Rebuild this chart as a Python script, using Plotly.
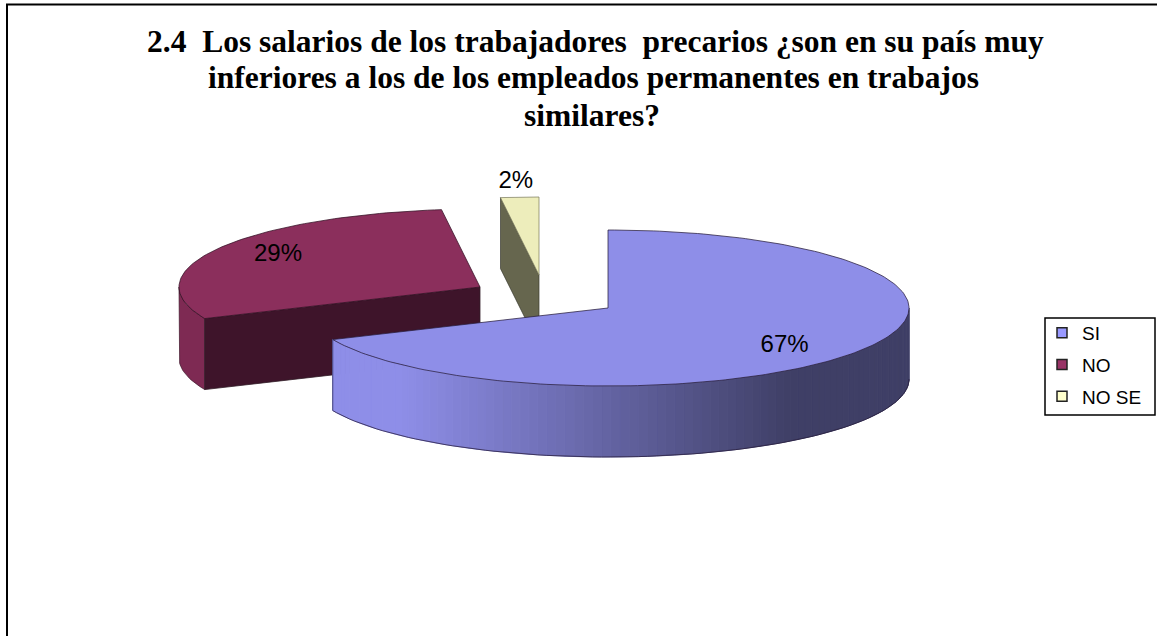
import numpy as np
import plotly.graph_objects as go

# Data
categories = ["SI", "NO", "NO SE"]
values = [67, 29, 2]
labels = ["67%", "29%", "2%"]
title_lines = [
    "2.4  Los salarios de los trabajadores  precarios ¿son en su país muy",
    "inferiores a los de los empleados permanentes en trabajos",
    "similares?",
]

# Styling / projection parameters
top_colors = ["#8E8EE8", "#8B2F5C", "#EDEDBB"]
cut_colors = ["#3F3F66", "#3E142A", "#66664E"]
legend_colors = ["#9999FF", "#993366", "#FFFFCC"]
centers = [(608, 308), (480, 287), (539, 275)]
RX, RY, DEPTH = 301, 78, 71
label_radius = [0.70, 0.77, 1.20]
label_dy = [8, -3, 0]
title_centers = [595, 593, 592]
title_mid_y = [41, 77, 115]

W, H = 1157, 636
total = sum(values)
bounds = np.concatenate([[0], np.cumsum(values)]) / total * 360.0


def pt(center, theta, r=1.0, dz=0.0):
    t = np.radians(theta)
    return center[0] + RX * r * np.sin(t), center[1] - RY * r * np.cos(t) + dz


def arc(center, a, b, n=90, dz=0.0):
    th = np.linspace(a, b, n)
    return pt(center, th, 1.0, dz)


def poly(x, y, fill, line=None, width=1.0):
    x = list(x) + [x[0]]
    y = list(y) + [y[0]]
    return go.Scatter(x=x, y=y, mode="lines", fill="toself", fillcolor=fill,
                      line=dict(color=line or fill, width=width),
                      showlegend=False, hoverinfo="skip")


def mix(c1, c2, f):
    return "rgb(%d,%d,%d)" % tuple(round(a + (b - a) * f) for a, b in zip(c1, c2))


fig = go.Figure()
EDGE = "rgba(40,30,60,0.75)"

# Third slice (NO SE): cut face then top
c = centers[2]
a, b = bounds[2], bounds[3]
lx, ly = pt(c, a)
fig.add_trace(poly([lx, c[0], c[0], lx], [ly, c[1], c[1] + DEPTH, ly + DEPTH], cut_colors[2], "rgba(60,60,50,0.7)"))
ax, ay = arc(c, a, b, 12)
fig.add_trace(poly([c[0]] + list(ax), [c[1]] + list(ay), top_colors[2], "rgba(120,120,90,0.7)"))

# Second slice (NO): outer wall, cut face, top
c = centers[1]
a, b = bounds[1], bounds[2]
ax, ay = arc(c, a, 270, 20)
bx, by = arc(c, 270, a, 20, DEPTH)
fig.add_trace(poly(list(ax) + list(bx), list(ay) + list(by), "#7E2A53", "rgba(60,20,40,0.7)"))
lx, ly = pt(c, a)
fig.add_trace(poly([lx, c[0], c[0], lx], [ly, c[1], c[1] + DEPTH, ly + DEPTH], cut_colors[1], "rgba(50,30,40,0.8)"))
ax, ay = arc(c, a, b, 80)
fig.add_trace(poly([c[0]] + list(ax), [c[1]] + list(ay), top_colors[1], "rgba(50,15,35,0.75)"))

# First slice (SI): shaded outer wall, then top
c = centers[0]
a, b = bounds[0], bounds[1]
light = (142, 142, 232)
dark = (63, 63, 102)
steps = np.linspace(90, b, 90)
for t0, t1 in zip(steps[:-1], steps[1:]):
    x0, y0 = pt(c, t0)
    x1, y1 = pt(c, t1)
    f = np.clip((790 - (x0 + x1) / 2) / 390, 0, 1)
    col = mix(dark, light, f)
    fig.add_trace(poly([x0, x1, x1, x0], [y0, y1, y1 + DEPTH, y0 + DEPTH], col))
bx, by = arc(c, 90, b, 90, DEPTH)
fig.add_trace(go.Scatter(x=bx, y=by, mode="lines", line=dict(color=EDGE, width=1),
                         showlegend=False, hoverinfo="skip"))
lx, ly = pt(c, b)
fig.add_trace(go.Scatter(x=[lx, lx], y=[ly, ly + DEPTH], mode="lines",
                         line=dict(color="#44447A", width=1), showlegend=False, hoverinfo="skip"))
ax, ay = arc(c, a, b, 200)
fig.add_trace(poly([c[0]] + list(ax), [c[1]] + list(ay), top_colors[0], EDGE))

# Data labels
for i, lab in enumerate(labels):
    mid = (bounds[i] + bounds[i + 1]) / 2
    x, y = pt(centers[i], mid, label_radius[i], label_dy[i])
    fig.add_trace(go.Scatter(x=[x], y=[y], mode="text", text=[lab],
                             textfont=dict(family="Liberation Sans", size=24, color="black"),
                             showlegend=False, hoverinfo="skip"))

# Legend entries
for i, cat in enumerate(categories):
    fig.add_trace(go.Scatter(x=[None], y=[None], mode="markers", name=cat, legendgroup=cat,
                             marker=dict(symbol="square", size=10, color=legend_colors[i],
                                         line=dict(color="#222222", width=1.5))))

annotations = [
    dict(text=t, x=cx, y=my, xref="x", yref="y", xanchor="center", yanchor="middle",
         showarrow=False,
         font=dict(family="Liberation Serif", size=31.5, color="black", weight="bold"))
    for t, cx, my in zip(title_lines, title_centers, title_mid_y)
]

fig.update_layout(
    width=W, height=H, autosize=False,
    margin=dict(l=0, r=0, t=0, b=0),
    paper_bgcolor="white", plot_bgcolor="white",
    xaxis=dict(range=[0, W], visible=False, fixedrange=True),
    yaxis=dict(range=[H, 0], visible=False, fixedrange=True),
    annotations=annotations,
    legend=dict(x=1042 / W, xanchor="left", y=1 - 314 / H, yanchor="top",
                bgcolor="rgba(0,0,0,0)", borderwidth=0,
                font=dict(family="Liberation Sans", size=19, color="black"),
                tracegroupgap=4, itemclick=False, itemdoubleclick=False),
    shapes=[
        dict(type="rect", xref="x", yref="y", x0=7, y0=4.5, x1=W + 20, y1=H + 20,
             line=dict(color="black", width=2), fillcolor="rgba(0,0,0,0)", layer="below"),
        dict(type="rect", xref="x", yref="y", x0=1045, y0=318, x1=1155, y1=415,
             line=dict(color="black", width=1.5), fillcolor="white", layer="below"),
    ],
)

fig.write_html("out.html", config=dict(displayModeBar=False),
               post_script="document.body.style.margin='0';document.body.style.overflow='hidden';")
